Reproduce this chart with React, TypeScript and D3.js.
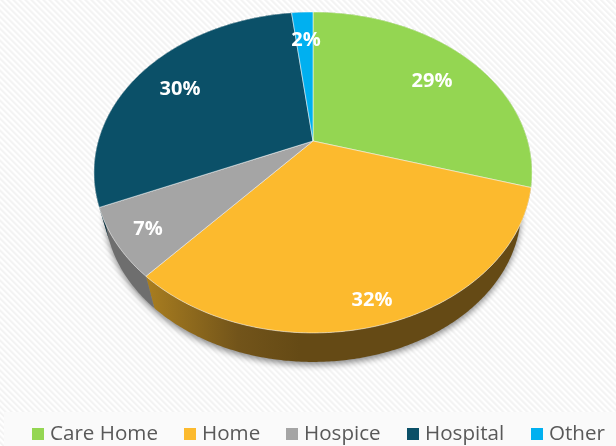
import React from "react";
import * as d3 from "d3";

const categories = ["Care Home", "Home", "Hospice", "Hospital", "Other"];
const values = [29.6, 31.95, 6.95, 29.6, 1.9];
const percentLabels = ["29%", "32%", "7%", "30%", "2%"];

const W = 616, H = 446;
const topColors = ["#94D652", "#FCBA2E", "#A5A5A5", "#0B5068", "#00B0F0"];
const sideColors = ["#5a8231", "url(#goldSide)", "#6E6E6E", "#06303f", "#006a90"];
const labelPos: [number, number][] = [[432, 80], [372, 299], [148, 228], [180, 88], [306, 39]];
const legendSwatchX = [32, 184, 286, 407, 531];

// perspective projection of the pie's disc
const cx = 313, apexY = 141, persp = 0.196, cTop = 214.8, aTop = 154.3;
const lowerScale = 0.95, lowerY = 179.6;

function project(angle: number, r: number, lower: boolean): [number, number] {
  const u = Math.sin(angle) * r, v = -Math.cos(angle) * r;
  const w = 1 - persp * v;
  const s = lower ? lowerScale : 1;
  return [cx + (s * cTop * u) / w, (lower ? lowerY : apexY) + (s * aTop * v) / w];
}
const line = d3.line();
function rim(a0: number, a1: number, lower: boolean): [number, number][] {
  const n = Math.max(2, Math.ceil(Math.abs(a1 - a0) / 0.01));
  return d3.range(n + 1).map((i) => project(a0 + ((a1 - a0) * i) / n, 1, lower));
}

export default function App() {
  const arcs = d3.pie<number>().sort(null)(values);
  const fullRim = rim(0, 2 * Math.PI, true);
  return (
    <svg width={W} height={H} style={{ position: "fixed", left: 0, top: 0, display: "block" }}>
      <defs>
        <pattern id="hatch" width="4.24" height="4.24" patternUnits="userSpaceOnUse" patternTransform="rotate(-45)">
          <rect width="4.24" height="4.24" fill="#ffffff" />
          <rect width="2.12" height="4.24" fill="#f3f3f3" />
        </pattern>
        <linearGradient id="goldSide" gradientUnits="userSpaceOnUse" x1="146" x2="300" y1="0" y2="0">
          <stop offset="0" stopColor="#A97E20" />
          <stop offset="0.6" stopColor="#72541A" />
          <stop offset="1" stopColor="#654A15" />
        </linearGradient>
        <filter id="blur" x="-10%" y="-10%" width="120%" height="120%">
          <feGaussianBlur stdDeviation="3" />
        </filter>
      </defs>
      <rect width={W} height={H} fill="url(#hatch)" />
      <rect x={4} y={412} width={W - 4} height={H - 412} fill="#fafafa" />
      <path d={line(fullRim)! + "Z"} fill="#000" opacity={0.45} filter="url(#blur)" transform="translate(0,3)" />
      {arcs.map((a, i) => {
        const top = rim(a.startAngle, a.endAngle, false);
        const bottom = rim(a.startAngle, a.endAngle, true).reverse();
        return <path key={"s" + i} d={line([...top, ...bottom])! + "Z"} fill={sideColors[i]} />;
      })}
      {arcs.map((a, i) => (
        <path
          key={"t" + i}
          d={line([project(0, 0, false), ...rim(a.startAngle, a.endAngle, false)])! + "Z"}
          fill={topColors[i]}
          stroke="#ffffff"
          strokeOpacity={0.65}
          strokeWidth={0.8}
          strokeLinejoin="round"
        />
      ))}
      {percentLabels.map((t, i) => (
        <text
          key={t}
          x={labelPos[i][0]}
          y={labelPos[i][1]}
          dy="0.36em"
          textAnchor="middle"
          fill="#fff"
          fontFamily="'Open Sans', sans-serif"
          fontWeight={700}
          fontSize={20}
        >
          {t}
        </text>
      ))}
      {categories.map((c, i) => (
        <g key={c}>
          <rect x={legendSwatchX[i]} y={428} width={12} height={12} fill={topColors[i]} />
          <text
            x={legendSwatchX[i] + 18}
            y={440}
            fill="#595959"
            fontFamily="'Open Sans', sans-serif"
            fontSize={20.6}
          >
            {c}
          </text>
        </g>
      ))}
    </svg>
  );
}
